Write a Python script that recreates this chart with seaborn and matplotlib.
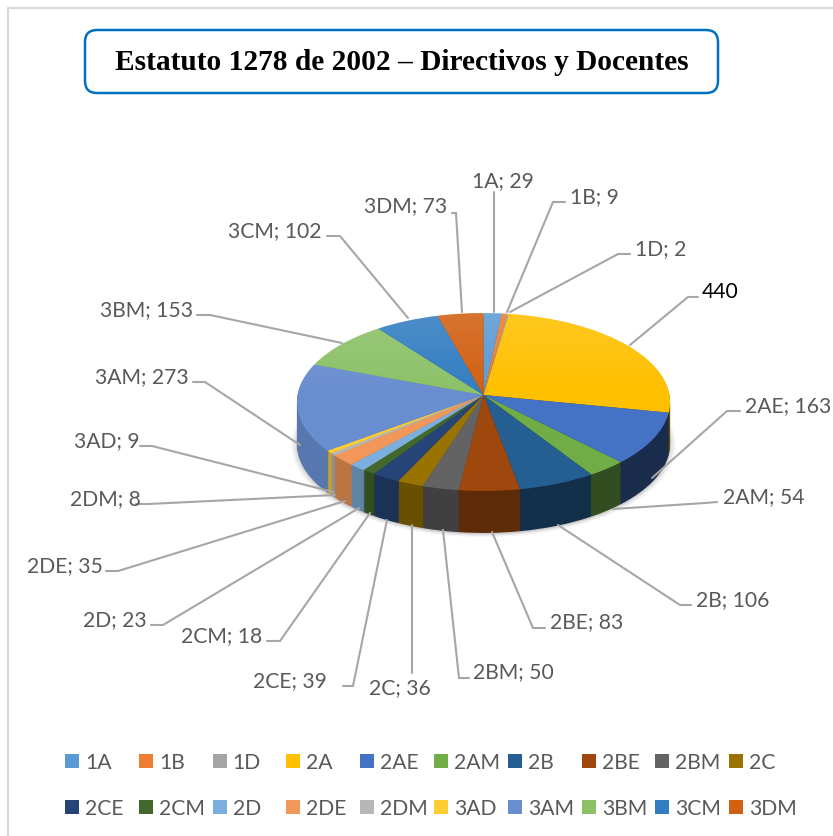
import numpy as np
import matplotlib
matplotlib.use("Agg")
import matplotlib.pyplot as plt
from matplotlib.patches import Circle, FancyBboxPatch, Rectangle
from matplotlib.transforms import Transform
import seaborn as sns

categories = ["1A", "1B", "1D", "2A", "2AE", "2AM", "2B", "2BE", "2BM", "2C",
              "2CE", "2CM", "2D", "2DE", "2DM", "3AD", "3AM", "3BM", "3CM", "3DM"]
values = [29, 9, 2, 440, 163, 54, 106, 83, 50, 36, 39, 18, 23, 35, 8, 9, 273, 153, 102, 73]
colors = ["#5B9BD5", "#ED7D31", "#A5A5A5", "#FFC000", "#4472C4", "#70AD47", "#255E91",
          "#9E480E", "#636363", "#997300", "#264478", "#43682B", "#7CAFDD", "#F1975A",
          "#B7B7B7", "#FFCD33", "#698ED0", "#8CC168", "#327DC2", "#D26012"]
title = "Estatuto 1278 de 2002 – Directivos y Docentes"

# label placement in pixels: text x, text y, leader polyline
placement = {
    "1A": (472, 181, [(494, 192), (494, 312)]),
    "1B": (570, 197, [(565, 202), (553, 202), (507, 312)]),
    "1D": (635, 249, [(630, 254), (618, 254), (510, 312)]),
    "2A": (702, 292, [(698, 297), (688, 297), (630, 345)]),
    "2AE": (745, 406, [(740, 411), (727, 411), (652, 478)]),
    "2AM": (723, 497, [(717, 502), (705, 503), (613, 509)]),
    "2B": (696, 600, [(691, 605), (680, 605), (558, 525)]),
    "2BE": (550, 622, [(545, 628), (533, 628), (492, 532)]),
    "2BM": (473, 672, [(469, 678), (459, 678), (443, 530)]),
    "2C": (369, 688, [(412, 673), (412, 525)]),
    "2CE": (253, 681, [(343, 686), (353, 686), (387, 520)]),
    "2CM": (181, 636, [(267, 641), (280, 641), (370, 513)]),
    "2D": (83, 620, [(151, 625), (163, 625), (359, 508)]),
    "2DE": (27, 566, [(106, 571), (118, 571), (345, 501)]),
    "2DM": (70, 499, [(136, 504), (148, 504), (335, 495)]),
    "3AD": (74, 441, [(140, 446), (152, 446), (333, 492)]),
    "3AM": (95, 377, [(193, 382), (205, 382), (300, 445)]),
    "3BM": (100, 310, [(197, 315), (210, 315), (342, 343)]),
    "3CM": (228, 231, [(327, 236), (340, 236), (408, 318)]),
    "3DM": (364, 206, [(452, 213), (456, 213), (462, 312)]),
}

sns.set_theme(style="white")
plt.rcParams["font.family"] = ["Lato", "DejaVu Sans"]
palette = sns.color_palette(colors)

W, H = 833, 836
fig = plt.figure(figsize=(W / 100, H / 100), dpi=100, facecolor="white")
ax = fig.add_axes([0, 0, 1, 1])

CX, CY, RX = 483.5, 395.0, 186.0
A, B = 88.4, 0.0787
DEPTH = 42


class Tilt(Transform):
    """Perspective view of the unit pie, in pixel coordinates."""
    input_dims = output_dims = 2
    is_separable = False
    has_inverse = False

    def __init__(self, dy=0.0):
        super().__init__()
        self.dy = dy

    def transform_non_affine(self, xy):
        xy = np.asarray(xy, float)
        d = 1 + B * xy[:, 1]
        return np.column_stack([CX + RX * xy[:, 0] / d, CY + self.dy - A * xy[:, 1] / d])


def draw_pie(cols, dy, z):
    wedges, texts = ax.pie(values, colors=cols, startangle=90, counterclock=False,
                           radius=1, wedgeprops=dict(linewidth=0))
    for t in texts:
        t.remove()
    tr = Tilt(dy) + ax.transData
    for w in wedges:
        w.set_transform(tr)
        w.set_zorder(z)
    return wedges


# soft shadow below the disc
for r, al in [(1.03, 0.04), (1.018, 0.06), (1.005, 0.10)]:
    ax.add_patch(Circle((0, 0), r, facecolor="black", edgecolor="none", alpha=al,
                        transform=Tilt(DEPTH + 1) + ax.transData, zorder=1))

# side wall: shade depends on where the slice sits left to right
theta = (np.cumsum(values) - np.array(values) / 2) / sum(values) * 2 * np.pi
shade = 0.6 - 0.24 * np.sin(theta)
side = [tuple(np.array(c) * s) for c, s in zip(palette, shade)]
for i, dy in enumerate(range(DEPTH, 0, -1)):
    draw_pie(side, dy, 2 + i * 0.001)

# top face
draw_pie(list(palette), 0, 3)

# light sheen on the far half of the top
grad = np.zeros((100, 2, 4))
grad[..., :3] = 1
grad[:, :, 3] = np.linspace(0.14, 0, 100)[:, None]
im = ax.imshow(grad, extent=(CX - 200, CX + 200, CY, CY - 90), aspect="auto", zorder=3.1)
clip = Circle((0, 0), 1, transform=Tilt(0) + ax.transData, facecolor="none", edgecolor="none")
ax.add_patch(clip)
im.set_clip_path(clip)

# leaders and data labels
for c, v in zip(categories, values):
    x, y, pts = placement[c]
    px, py = zip(*pts)
    ax.plot(px, py, color="#a6a6a6", lw=1.5, solid_joinstyle="miter", zorder=4)
    label = str(v) if c == "2A" else f"{c}; {v}"
    ax.text(x, y, label, ha="left", va="center", fontsize=15.2,
            color="black" if c == "2A" else "#595959", zorder=5)

# chart frame
ax.plot([8, 8, W], [H, 8, 8], color="#d9d9d9", lw=1.6, zorder=0.5)

# title box
ax.add_patch(FancyBboxPatch((85, 30), 633, 63, boxstyle="round,pad=0,rounding_size=12",
                            facecolor="white", edgecolor="#0070C0", lw=1.8, zorder=5))
ax.text(401.5, 63, title, ha="center", va="center", fontsize=21.2, fontweight="bold",
        family="Liberation Serif", color="black", zorder=6)

# legend
for i, (c, col) in enumerate(zip(categories, palette)):
    row, k = divmod(i, 10)
    x0 = 65 + k * 73.8
    y0 = 761 + row * 46
    ax.add_patch(Rectangle((x0, y0 - 7), 14, 14, facecolor=col, edgecolor="none", zorder=5))
    ax.text(x0 + 20, y0 + 2, c, ha="left", va="center", fontsize=15.2, color="#595959", zorder=5)

ax.set_aspect("auto")
ax.set_xlim(0, W)
ax.set_ylim(H, 0)
ax.set_axis_off()
fig.savefig("out.png", dpi=100, facecolor="white")
